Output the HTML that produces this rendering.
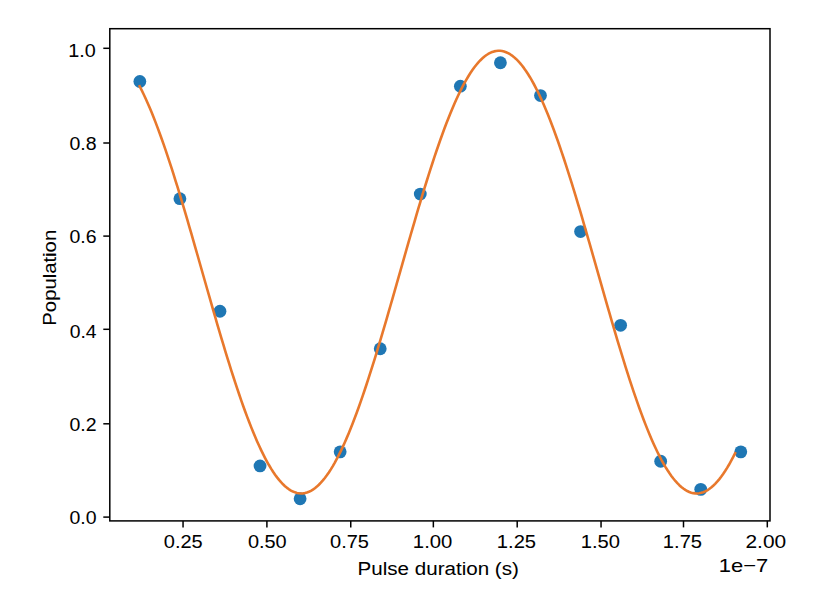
<!DOCTYPE html>
<html><head><meta charset="utf-8"><title>Population vs pulse duration</title>
<style>
html,body{margin:0;padding:0;background:#fff;}
body{width:836px;height:597px;overflow:hidden;}
svg{display:block;}
text{font-family:"Liberation Sans",sans-serif;font-size:19.1px;fill:#000;stroke:#000;stroke-width:0.05px;}
</style></head>
<body>
<svg width="836" height="597" viewBox="0 0 836 597">
<rect x="0" y="0" width="836" height="597" fill="#fff"/>
<g fill="#1f77b4" stroke="none">
<circle cx="139.85" cy="81.52" r="6.40"/>
<circle cx="179.91" cy="198.72" r="6.40"/>
<circle cx="219.97" cy="311.23" r="6.40"/>
<circle cx="260.04" cy="465.93" r="6.40"/>
<circle cx="300.10" cy="498.75" r="6.40"/>
<circle cx="340.16" cy="451.87" r="6.40"/>
<circle cx="380.23" cy="348.73" r="6.40"/>
<circle cx="420.29" cy="194.03" r="6.40"/>
<circle cx="460.35" cy="86.20" r="6.40"/>
<circle cx="500.42" cy="62.76" r="6.40"/>
<circle cx="540.48" cy="95.58" r="6.40"/>
<circle cx="580.54" cy="231.53" r="6.40"/>
<circle cx="620.61" cy="325.29" r="6.40"/>
<circle cx="660.67" cy="461.24" r="6.40"/>
<circle cx="700.73" cy="489.37" r="6.40"/>
<circle cx="740.80" cy="451.87" r="6.40"/>
</g>
<path d="M139.65 86.30 L141.64 90.20 L143.63 94.29 L145.62 98.54 L147.61 102.98 L149.61 107.58 L151.60 112.35 L153.59 117.28 L155.58 122.36 L157.57 127.59 L159.56 132.97 L161.55 138.49 L163.55 144.14 L165.54 149.91 L167.53 155.82 L169.52 161.83 L171.51 167.96 L173.50 174.19 L175.49 180.52 L177.49 186.94 L179.48 193.45 L181.47 200.04 L183.46 206.70 L185.45 213.42 L187.44 220.20 L189.43 227.04 L191.43 233.92 L193.42 240.83 L195.41 247.78 L197.40 254.75 L199.39 261.75 L201.38 268.75 L203.37 275.75 L205.37 282.75 L207.36 289.74 L209.35 296.71 L211.34 303.66 L213.33 310.58 L215.32 317.46 L217.31 324.29 L219.31 331.07 L221.30 337.79 L223.29 344.44 L225.28 351.03 L227.27 357.53 L229.26 363.95 L231.25 370.27 L233.25 376.50 L235.24 382.62 L237.23 388.64 L239.22 394.53 L241.21 400.31 L243.20 405.95 L245.19 411.46 L247.19 416.83 L249.18 422.06 L251.17 427.14 L253.16 432.06 L255.15 436.82 L257.14 441.41 L259.13 445.84 L261.13 450.09 L263.12 454.17 L265.11 458.06 L267.10 461.76 L269.09 465.28 L271.08 468.60 L273.07 471.73 L275.07 474.65 L277.06 477.37 L279.05 479.89 L281.04 482.20 L283.03 484.30 L285.02 486.19 L287.01 487.86 L289.01 489.31 L291.00 490.55 L292.99 491.57 L294.98 492.37 L296.97 492.95 L298.96 493.31 L300.95 493.44 L302.95 493.36 L304.94 493.05 L306.93 492.52 L308.92 491.77 L310.91 490.81 L312.90 489.62 L314.89 488.21 L316.89 486.59 L318.88 484.75 L320.87 482.70 L322.86 480.44 L324.85 477.97 L326.84 475.30 L328.83 472.42 L330.83 469.34 L332.82 466.06 L334.81 462.59 L336.80 458.93 L338.79 455.08 L340.78 451.05 L342.77 446.84 L344.77 442.45 L346.76 437.89 L348.75 433.17 L350.74 428.29 L352.73 423.25 L354.72 418.05 L356.71 412.71 L358.71 407.24 L360.70 401.62 L362.69 395.88 L364.68 390.01 L366.67 384.02 L368.66 377.92 L370.65 371.72 L372.65 365.42 L374.64 359.02 L376.63 352.53 L378.62 345.97 L380.61 339.33 L382.60 332.62 L384.59 325.86 L386.59 319.04 L388.58 312.17 L390.57 305.26 L392.56 298.32 L394.55 291.35 L396.54 284.37 L398.53 277.37 L400.53 270.36 L402.52 263.36 L404.51 256.37 L406.50 249.39 L408.49 242.43 L410.48 235.51 L412.47 228.62 L414.47 221.77 L416.46 214.98 L418.45 208.24 L420.44 201.57 L422.43 194.97 L424.42 188.44 L426.41 182.00 L428.41 175.65 L430.40 169.39 L432.39 163.24 L434.38 157.19 L436.37 151.27 L438.36 145.46 L440.36 139.78 L442.35 134.23 L444.34 128.82 L446.33 123.55 L448.32 118.44 L450.31 113.47 L452.30 108.67 L454.30 104.03 L456.29 99.55 L458.28 95.25 L460.27 91.13 L462.26 87.19 L464.25 83.43 L466.24 79.86 L468.24 76.49 L470.23 73.31 L472.22 70.33 L474.21 67.55 L476.20 64.98 L478.19 62.61 L480.18 60.45 L482.18 58.51 L484.17 56.78 L486.16 55.26 L488.15 53.97 L490.14 52.89 L492.13 52.03 L494.12 51.39 L496.12 50.97 L498.11 50.77 L500.10 50.80 L502.09 51.04 L504.08 51.51 L506.07 52.20 L508.06 53.11 L510.06 54.24 L512.05 55.58 L514.04 57.15 L516.03 58.92 L518.02 60.92 L520.01 63.12 L522.00 65.53 L524.00 68.15 L525.99 70.97 L527.98 74.00 L529.97 77.22 L531.96 80.64 L533.95 84.25 L535.94 88.05 L537.94 92.03 L539.93 96.20 L541.92 100.53 L543.91 105.05 L545.90 109.72 L547.89 114.56 L549.88 119.56 L551.88 124.71 L553.87 130.01 L555.86 135.45 L557.85 141.03 L559.84 146.74 L561.83 152.58 L563.82 158.53 L565.82 164.60 L567.81 170.78 L569.80 177.05 L571.79 183.42 L573.78 189.89 L575.77 196.43 L577.76 203.05 L579.76 209.74 L581.75 216.49 L583.74 223.30 L585.73 230.15 L587.72 237.05 L589.71 243.98 L591.70 250.94 L593.70 257.92 L595.69 264.92 L597.68 271.92 L599.67 278.93 L601.66 285.92 L603.65 292.91 L605.64 299.87 L607.64 306.80 L609.63 313.70 L611.62 320.56 L613.61 327.37 L615.60 334.12 L617.59 340.82 L619.58 347.44 L621.58 353.99 L623.57 360.45 L625.56 366.83 L627.55 373.11 L629.54 379.29 L631.53 385.37 L633.52 391.33 L635.52 397.17 L637.51 402.88 L639.50 408.47 L641.49 413.92 L643.48 419.22 L645.47 424.38 L647.46 429.39 L649.46 434.24 L651.45 438.92 L653.44 443.44 L655.43 447.79 L657.42 451.96 L659.41 455.95 L661.40 459.76 L663.40 463.38 L665.39 466.81 L667.38 470.04 L669.37 473.08 L671.36 475.91 L673.35 478.54 L675.34 480.96 L677.34 483.18 L679.33 485.18 L681.32 486.97 L683.31 488.54 L685.30 489.90 L687.29 491.04 L689.28 491.96 L691.28 492.66 L693.27 493.14 L695.26 493.40 L697.25 493.43 L699.24 493.25 L701.23 492.84 L703.22 492.21 L705.22 491.36 L707.21 490.29 L709.20 489.01 L711.19 487.50 L713.18 485.78 L715.17 483.85 L717.16 481.70 L719.16 479.35 L721.15 476.79 L723.14 474.02 L725.13 471.05 L727.12 467.88 L729.11 464.51 L731.10 460.95 L733.10 457.21 L735.09 453.27" fill="none" stroke="#e8782c" stroke-width="2.6" stroke-linejoin="round" stroke-linecap="square"/>
<g stroke="#000" stroke-width="1.5" fill="none">
<rect x="109.8" y="28.7" width="660.20" height="492.20"/>
<line x1="183.05" y1="520.90" x2="183.05" y2="527.40"/>
<line x1="266.90" y1="520.90" x2="266.90" y2="527.40"/>
<line x1="350.75" y1="520.90" x2="350.75" y2="527.40"/>
<line x1="433.35" y1="520.90" x2="433.35" y2="527.40"/>
<line x1="517.20" y1="520.90" x2="517.20" y2="527.40"/>
<line x1="601.05" y1="520.90" x2="601.05" y2="527.40"/>
<line x1="683.50" y1="520.90" x2="683.50" y2="527.40"/>
<line x1="767.30" y1="520.90" x2="767.30" y2="527.40"/>
<line x1="103.30" y1="517.10" x2="109.80" y2="517.10"/>
<line x1="103.30" y1="423.80" x2="109.80" y2="423.80"/>
<line x1="103.30" y1="329.30" x2="109.80" y2="329.30"/>
<line x1="103.30" y1="236.10" x2="109.80" y2="236.10"/>
<line x1="103.30" y1="143.00" x2="109.80" y2="143.00"/>
<line x1="103.30" y1="48.30" x2="109.80" y2="48.30"/>
</g>
<g>
<text text-anchor="end" transform="translate(96.50 523.85) scale(1.0198 1)">0.0</text>
<text text-anchor="end" transform="translate(96.50 430.65) scale(1.0198 1)">0.2</text>
<text text-anchor="end" transform="translate(96.50 337.75) scale(1.0118 1)">0.4</text>
<text text-anchor="end" transform="translate(96.50 243.05) scale(1.0198 1)">0.6</text>
<text text-anchor="end" transform="translate(96.50 149.70) scale(1.0198 1)">0.8</text>
<text text-anchor="end" transform="translate(95.80 57.25) scale(1.0366 1)">1.0</text>
<text text-anchor="middle" transform="translate(183.22 548.40) scale(1.0477 1)">0.25</text>
<text text-anchor="middle" transform="translate(267.30 548.40) scale(1.0447 1)">0.50</text>
<text text-anchor="middle" transform="translate(349.47 548.40) scale(1.0477 1)">0.75</text>
<text text-anchor="middle" transform="translate(432.60 548.40) scale(1.0626 1)">1.00</text>
<text text-anchor="middle" transform="translate(516.44 548.40) scale(1.0567 1)">1.25</text>
<text text-anchor="middle" transform="translate(600.42 548.40) scale(1.0567 1)">1.50</text>
<text text-anchor="middle" transform="translate(682.44 548.40) scale(1.0567 1)">1.75</text>
<text text-anchor="middle" transform="translate(765.80 548.40) scale(1.0944 1)">2.00</text>
<text text-anchor="middle" transform="translate(438.20 574.90) scale(1.0778 1)">Pulse duration (s)</text>
<text text-anchor="middle" transform="translate(56.00 277.75) rotate(-90) scale(1.0627 1)">Population</text>
<text text-anchor="end" transform="translate(768.30 572.20) scale(1.1525 1)">1e−7</text>
</g>
</svg>
</body></html>
